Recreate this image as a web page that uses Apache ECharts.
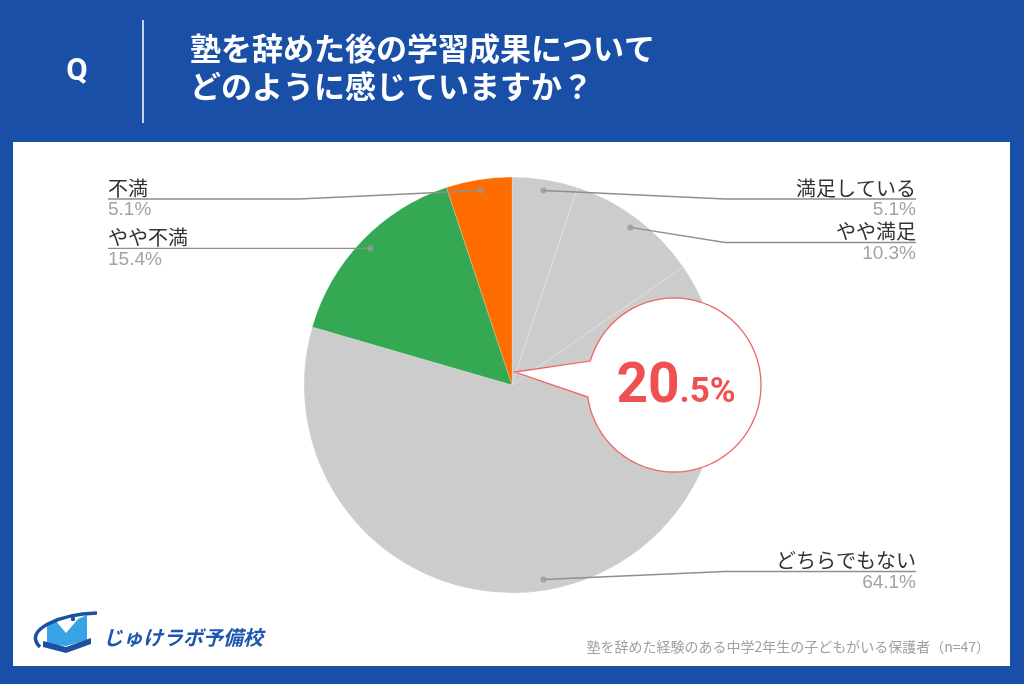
<!DOCTYPE html>
<html><head><meta charset="utf-8">
<script src="https://cdn.jsdelivr.net/npm/echarts@6/dist/echarts.min.js"></script>
<style>html,body{margin:0;padding:0;background:#1a4fa8}#c{width:1024px;height:684px}</style>
</head><body><div id="c"></div>
<script>
// ---- data ----
const categories = ['満足している', 'やや満足', 'どちらでもない', 'やや不満', '不満'];
const values = [5.1, 10.3, 64.1, 15.4, 5.1];
const titleLines = ['塾を辞めた後の学習成果について', 'どのように感じていますか？'];
const footnote = '塾を辞めた経験のある中学2年生の子どもがいる保護者（n=47）';
const brand = 'じゅけラボ予備校';
const highlightIdx = [3, 4];   // 不満 + やや不満 → callout value

// ---- styles / layout ----
const sliceColors = ['#cccccc', '#cccccc', '#cccccc', '#34a853', '#ff6d01'];
const CX = 512, CY = 385, R = 208, DOT_R = 197;
const JP = '"Noto Sans CJK JP", "Noto Sans", sans-serif';

const total = values.reduce((a, b) => a + b, 0);
let acc = 0;
const dots = values.map(v => { const mid = acc + v / 2; acc += v; return [DOT_R, mid]; });
const hl = highlightIdx.reduce((s, i) => s + values[i], 0).toFixed(1);
const hlInt = hl.split('.')[0], hlDec = '.' + hl.split('.')[1] + '%';

// callout bubble outline (decoration)
const BX = 674, BY = 385, BR = 87;
const bubble = [[515, 372]];
for (let a = 196; a <= 533.5; a += 2) {
  const t = a * Math.PI / 180;
  bubble.push([BX + BR * Math.cos(t), BY + BR * Math.sin(t)]);
}

const pieData = categories.map((n, i) => ({ name: n, value: values[i], itemStyle: { color: sliceColors[i] } }));
const labelData = categories.map((n, i) => ({ name: n, value: values[i] }));

const chart = echarts.init(document.getElementById('c'), null, { renderer: 'canvas' });
chart.setOption({
  animation: false,
  backgroundColor: '#1a4fa8',
  polar: { center: [CX, CY], radius: R },
  angleAxis: { type: 'value', min: 0, max: total, startAngle: 90, clockwise: true, show: false },
  radiusAxis: { type: 'value', min: 0, max: R, show: false },
  graphic: [
    { type: 'rect', z: 0, shape: { x: 13, y: 142, width: 997, height: 524 }, style: { fill: '#ffffff' } },
    { type: 'line', z: 1, shape: { x1: 143, y1: 20, x2: 143, y2: 123 }, style: { stroke: '#ffffff', lineWidth: 1.5 } },
    { type: 'text', z: 1, x: 77, y: 72, style: { text: 'Q', fill: '#ffffff', font: 'bold 31px Roboto, sans-serif', align: 'center', verticalAlign: 'middle' } },
    { type: 'text', z: 1, x: 190, y: 48, style: { text: titleLines[0], fill: '#ffffff', fontSize: 31, fontWeight: 'bold', fontFamily: JP, align: 'left', verticalAlign: 'middle' } },
    { type: 'text', z: 1, x: 190, y: 86, style: { text: titleLines[1], fill: '#ffffff', fontSize: 31, fontWeight: 'bold', fontFamily: JP, align: 'left', verticalAlign: 'middle' } },
    // callout bubble
    { type: 'polygon', z: 50, shape: { points: bubble }, style: { fill: '#ffffff', stroke: '#f26464', lineWidth: 1.3 } },
    { type: 'text', z: 51, x: 676, y: 386, style: {
        text: '{a|' + hlInt + '}{b|' + hlDec + '}', align: 'center', verticalAlign: 'middle',
        rich: {
          a: { fontSize: 55, fontWeight: 'bold', fontFamily: 'Roboto, sans-serif', fill: '#ef5050', verticalAlign: 'bottom', lineHeight: 60 },
          b: { fontSize: 35, fontWeight: 'bold', fontFamily: 'Roboto, sans-serif', fill: '#ef5050', verticalAlign: 'bottom', lineHeight: 60, padding: [0, 0, 5, 0] }
        } } },
    // logo
    { type: 'bezierCurve', z: 5, shape: { x1: 40, y1: 647, cpx1: 22, cpy1: 630, cpx2: 60, cpy2: 614, x2: 97, y2: 613 }, style: { stroke: '#1d4fa3', lineWidth: 3.5, fill: null } },
    { type: 'circle', z: 5, shape: { cx: 73, cy: 619, r: 2.2 }, style: { fill: '#1d4fa3' } },
    { type: 'polygon', z: 4, shape: { points: [[47, 623], [55, 620], [66, 633], [78, 619], [87, 615], [87, 640], [66, 646], [47, 644]] }, style: { fill: '#3aa3e3' } },
    { type: 'polygon', z: 5, shape: { points: [[43, 641], [66, 647], [91, 638], [91, 644], [66, 653], [43, 647]] }, style: { fill: '#1d4fa3' } },
    { type: 'text', z: 5, x: 103, y: 637, style: { text: brand, fill: '#1d57b0', fontSize: 20, fontWeight: 'bold', fontStyle: 'italic', fontFamily: JP, align: 'left', verticalAlign: 'middle' } },
    { type: 'text', z: 5, x: 990, y: 647, style: { text: footnote, fill: '#a0a0a0', fontSize: 14, fontFamily: JP, align: 'right', verticalAlign: 'middle' } }
  ],
  series: [
    {
      type: 'pie', z: 2, silent: true,
      left: 0, right: 0, top: CY - R, bottom: 684 - CY - R,
      center: ['50%', '50%'], radius: R, startAngle: 90, clockwise: true,
      label: { show: false }, labelLine: { show: false },
      itemStyle: { borderColor: 'rgba(255,255,255,0.18)', borderWidth: 1 },
      emphasis: { disabled: true },
      data: pieData
    },
    {
      type: 'pie', z: 3, silent: true,
      left: 0, right: 0, top: CY - R, bottom: 684 - CY - R,
      center: ['50%', '50%'], radius: DOT_R, startAngle: 90, clockwise: true,
      itemStyle: { color: 'rgba(0,0,0,0)', borderWidth: 0 },
      emphasis: { disabled: true },
      avoidLabelOverlap: true,
      label: {
        show: true, position: 'outside', alignTo: 'edge', edgeDistance: 108, distanceToLabelLine: 0,
        formatter: p => '{n|' + p.name + '}\n{v|' + p.value.toFixed(1) + '%}',
        rich: {
          n: { fontSize: 20, lineHeight: 22, color: '#333333', fontFamily: JP },
          v: { fontSize: 19, lineHeight: 22, color: '#a3a3a3', fontFamily: '"Liberation Sans", Arial, sans-serif' }
        }
      },
      labelLine: { show: true, length: 0, length2: 0, minTurnAngle: 0, maxSurfaceAngle: 180, lineStyle: { color: '#8f8f8f', width: 1.3 } },
      labelLayout: function (params) {
        const pts = params.labelLinePoints;
        if (!pts) return {};
        const rect = params.labelRect;
        const isRight = rect.x + rect.width / 2 > CX;
        const y = pts[2][1];
        return { labelLinePoints: [pts[0], [isRight ? CX + R + 5 : CX - R - 5, y], [isRight ? rect.x + rect.width : rect.x, y]] };
      },
      data: labelData
    },
    {
      type: 'scatter', coordinateSystem: 'polar', z: 5, silent: true,
      symbol: 'circle', symbolSize: 6, itemStyle: { color: '#999999' },
      data: dots
    }
  ]
});
</script></body></html>
